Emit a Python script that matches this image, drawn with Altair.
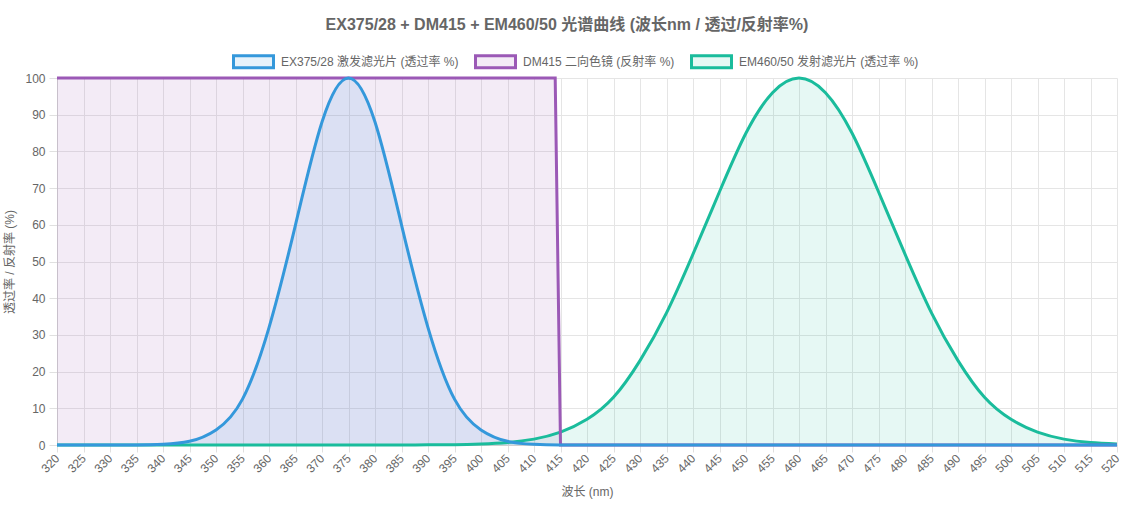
import altair as alt
import pandas as pd

wavelengths = list(range(320, 521, 5))

ex_values = [0, 0, 0, 0.03, 0.2, 1.0, 4.1, 12.5, 32, 60, 88, 100, 88, 60, 32, 12.5, 4.1, 1.0, 0.2, 0.03,
             0, 0, 0, 0, 0, 0, 0, 0, 0, 0, 0, 0, 0, 0, 0, 0, 0, 0, 0, 0, 0]
em_values = [0, 0, 0, 0, 0, 0, 0, 0, 0, 0, 0, 0, 0, 0,
             0.05, 0.1, 0.3, 0.7, 1.6, 3.5, 7, 13, 23, 36, 52, 69, 85, 96, 100, 96, 85, 69, 52, 36, 23, 13,
             7, 3.5, 1.6, 0.7, 0.3]
dm_wavelengths = [320, 414, 415, 520]
dm_values = [100, 100, 0, 0]

series_names = ["EX375/28 激发滤光片 (透过率 %)", "DM415 二向色镜 (反射率 %)", "EM460/50 发射滤光片 (透过率 %)"]
line_colors = ["#3498db", "#9b59b6", "#1abc9c"]
fill_colors = ["rgba(52,152,219,0.12)", "rgba(155,89,182,0.12)", "rgba(26,188,156,0.11)"]
x_ticks = list(range(320, 521, 5))
y_ticks = list(range(0, 101, 10))

ex_df = pd.DataFrame({"wl": wavelengths, "v": ex_values, "s": series_names[0]})
dm_df = pd.DataFrame({"wl": dm_wavelengths, "v": dm_values, "s": series_names[1]})
em_df = pd.DataFrame({"wl": wavelengths, "v": em_values, "s": series_names[2]})

FONT = "Liberation Sans, Noto Sans CJK SC, sans-serif"

x_enc = alt.X("wl:Q", scale=alt.Scale(domain=[320, 520], nice=False, zero=False),
              axis=alt.Axis(values=x_ticks, title="波长 (nm)", labelAngle=315, labelAlign="right",
                            labelBaseline="middle", labelPadding=4, tickSize=7, titlePadding=12))
y_enc = alt.Y("v:Q", scale=alt.Scale(domain=[0, 100], nice=False),
              axis=alt.Axis(values=y_ticks, title="透过率 / 反射率 (%)", tickSize=8, labelPadding=4,
                            titlePadding=8))

fill_enc = alt.Fill("s:N", scale=alt.Scale(domain=series_names, range=fill_colors),
                    legend=alt.Legend(title=None))
stroke_enc = alt.Stroke("s:N", scale=alt.Scale(domain=series_names, range=line_colors),
                        legend=alt.Legend(title=None))


def area(df, interp):
    return alt.Chart(df).mark_area(interpolate=interp).encode(x=x_enc, y=y_enc, fill=fill_enc)


def line(df, interp):
    return alt.Chart(df).mark_line(interpolate=interp, strokeWidth=3).encode(x=x_enc, y=y_enc, stroke=stroke_enc)


chart = alt.layer(
    area(dm_df, "linear"), area(ex_df, "natural"), area(em_df, "natural"),
    line(em_df, "natural"), line(dm_df, "linear"), line(ex_df, "natural"),
).properties(
    width=1060, height=367,
    title=alt.TitleParams("EX375/28 + DM415 + EM460/50 光谱曲线 (波长nm / 透过/反射率%)",
                          fontSize=16, fontWeight="bold", color="#666", font=FONT, anchor="middle",
                          dx=-20, offset=7),
    autosize=alt.AutoSizeParams(type="none"),
    padding={"left": 57, "top": 78, "right": 18, "bottom": 69},
    background="white",
).configure_view(strokeWidth=0).configure_axis(
    labelFont=FONT, titleFont=FONT, labelFontSize=12, titleFontSize=12, labelColor="#666",
    titleColor="#666", titleFontWeight="normal", gridColor="#e5e5e5", tickColor="#e0e0e0",
    domainColor="#cfcfcf",
).configure_legend(
    orient="none", legendX=175, legendY=-38, direction="horizontal",
    symbolType="M-1,-0.3H1V0.3H-1Z", symbolSize=1600, symbolStrokeWidth=3,
    labelFont=FONT, labelFontSize=12, labelColor="#666", columnPadding=10, labelOffset=6,
    labelLimit=400,
)

chart.save("out.html", embed_options={"renderer": "svg", "actions": False})
